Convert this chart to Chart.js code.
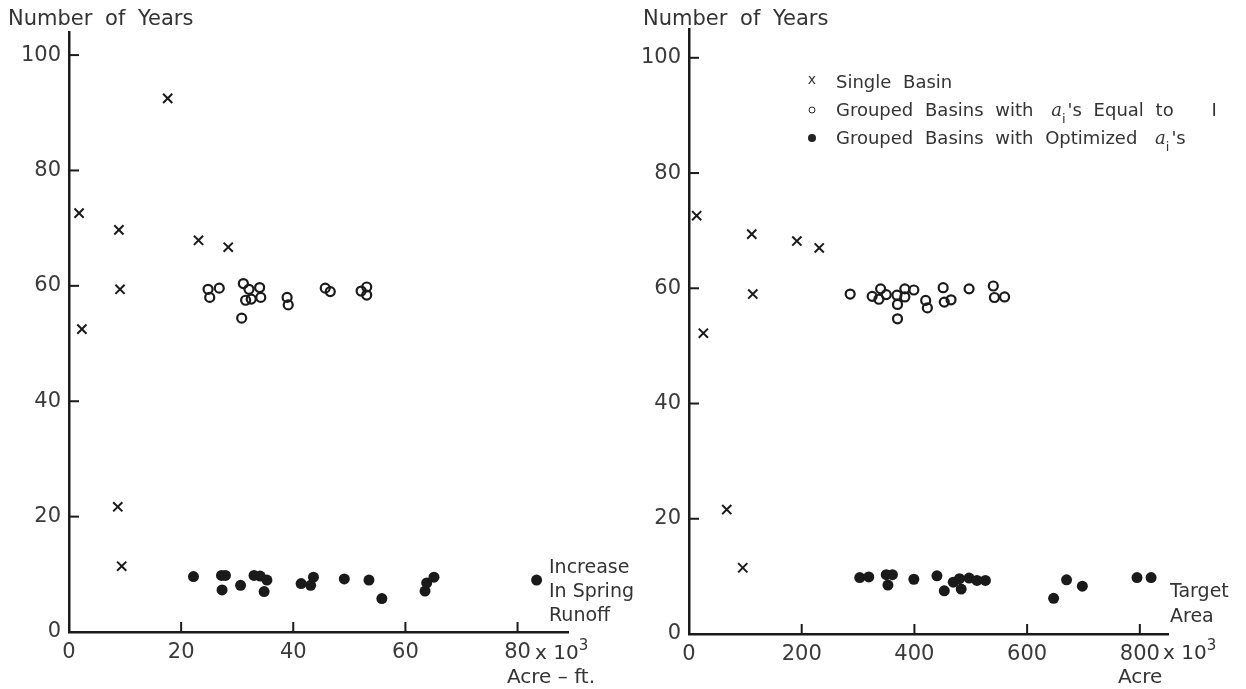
<!DOCTYPE html>
<html>
<head>
<meta charset="utf-8">
<title>Number of Years</title>
<script src="https://cdn.jsdelivr.net/npm/chart.js@4.4.1/dist/chart.umd.min.js"></script>
<style>
    body {
        margin: 0;
        background: #fff;
        width: 1246px;
        height: 689px;
        overflow: hidden;
        position: relative;
        font-family: "DejaVu Sans", sans-serif;
        color: #333;
    }
    canvas { position: absolute; top: 0; }
    #runoffChart { left: 0; }
    #areaChart { left: 623px; }
    .txt { position: absolute; white-space: nowrap; }
    .ylabel { top: 6px; font-size: 21px; line-height: 24px; word-spacing: 6px; }
    .note { font-size: 19px; line-height: 24px; }
    .unit { font-size: 20px; line-height: 24px; }
    .unit sup { font-size: 15px; vertical-align: 9px; line-height: 0; }
    .legend { left: 812px; top: 68px; font-size: 18px; line-height: 28px; word-spacing: 6px; }
    .legend .row { position: relative; padding-left: 24px; }
    .legend .mk { position: absolute; left: 0; top: 14px; transform: translate(-50%, -50%); }
    .mk.cross { font-size: 14px; line-height: 14px; top: 11px; }
    .mk.open { width: 5px; height: 5px; border: 1.6px solid #222; border-radius: 50%; }
    .mk.dot { width: 8px; height: 8px; background: #222; border-radius: 50%; }
    .legend i { font-family: "DejaVu Serif", serif; margin-left: 6px; }
    .legend sub { font-size: 13px; vertical-align: -7px; line-height: 0; margin-right: 2px; }
    .legend .wide { margin-left: 26px; }
</style>
</head>
<body>
<canvas id="runoffChart" width="623" height="689"></canvas>
<canvas id="areaChart" width="623" height="689"></canvas>

<div class="txt ylabel" style="left:8px">Number of Years</div>
<div class="txt ylabel" style="left:643px">Number of Years</div>

<div class="txt note" style="left:549px; top:554px">Increase<br>In Spring<br>Runoff</div>
<div class="txt unit" style="left:535px; top:640px">x 10<sup>3</sup></div>
<div class="txt unit" style="left:507px; top:664px">Acre – ft.</div>

<div class="txt note" style="left:1170px; top:578px; line-height:25px">Target<br>Area</div>
<div class="txt unit" style="left:1163px; top:640px">x 10<sup>3</sup></div>
<div class="txt unit" style="left:1118px; top:664px">Acre</div>

<div class="txt legend">
    <div class="row"><span class="mk cross">x</span>Single Basin</div>
    <div class="row"><span class="mk open"></span>Grouped Basins with <i>a</i><sub>i</sub>'s Equal to <span class="wide">I</span></div>
    <div class="row"><span class="mk dot"></span>Grouped Basins with Optimized <i>a</i><sub>i</sub>'s</div>
</div>

<script>
// years axis, shared by both panels
const yearTicks = [0, 20, 40, 60, 80, 100];

// left panel: increase in spring runoff (x 10^3 acre-ft)
const runoffTicks = [0, 20, 40, 60, 80];
const runoffSingleX = [1.8, 2.3, 8.9, 9.1, 17.6, 23.1, 28.4, 8.7, 9.4];
const runoffSingleY = [72.6, 52.5, 69.7, 59.4, 92.5, 67.9, 66.7, 21.7, 11.4];
const runoffEqualX = [24.8, 25.1, 26.8, 31.1, 32.1, 34.0, 31.5, 32.5, 34.2, 30.8, 38.9, 39.1, 45.7, 46.6, 52.1, 53.1, 53.1];
const runoffEqualY = [59.4, 58.0, 59.6, 60.4, 59.4, 59.7, 57.5, 57.7, 58.0, 54.4, 58.0, 56.7, 59.6, 59.0, 59.1, 59.8, 58.4];
const runoffOptX = [22.2, 27.2, 27.9, 27.3, 30.6, 33.0, 34.1, 35.3, 34.8, 41.4, 43.1, 43.6, 49.1, 53.5, 55.8, 63.5, 63.8, 65.1, 83.4];
const runoffOptY = [9.6, 9.8, 9.8, 7.3, 8.1, 9.8, 9.7, 9.0, 7.0, 8.4, 8.1, 9.5, 9.2, 9.0, 5.8, 7.1, 8.5, 9.5, 9.0];

// right panel: target area (x 10^3 acre)
const areaTicks = [0, 200, 400, 600, 800];
const areaSingleX = [13.6, 111.4, 191.4, 231.1, 113.2, 25.5, 67.0, 95.4];
const areaSingleY = [72.6, 69.4, 68.2, 67.0, 59.0, 52.2, 21.6, 11.5];
const areaEqualX = [286, 325, 337, 340, 350, 369, 370, 370, 383, 383, 399, 420, 423, 451, 453, 465, 497, 540, 542, 560];
const areaEqualY = [59.0, 58.6, 58.1, 59.9, 58.9, 58.8, 57.2, 54.7, 59.9, 58.5, 59.7, 57.9, 56.6, 60.1, 57.6, 58.0, 59.9, 60.4, 58.4, 58.5];
const areaOptX = [303, 319, 350, 361, 353, 399, 440, 453, 469, 480, 483, 497, 511, 526, 647, 670, 698, 795, 820];
const areaOptY = [9.8, 9.9, 10.3, 10.3, 8.5, 9.5, 10.1, 7.5, 9.0, 9.6, 7.8, 9.7, 9.3, 9.3, 6.2, 9.4, 8.3, 9.8, 9.8];

const INK = '#1a1a1a';
const FONT = '"DejaVu Sans", sans-serif';

const zip = (xs, ys) => xs.map((x, i) => ({ x: x, y: ys[i] }));

// short tick marks pointing into the plot, like the hand-drawn axes
const inwardTicks = {
    id: 'inwardTicks',
    afterDraw(chart) {
        const { ctx, chartArea, scales } = chart;
        ctx.save();
        ctx.strokeStyle = INK;
        ctx.lineWidth = 2;
        scales.x.ticks.forEach(t => {
            if (t.value === 0) return;
            const px = scales.x.getPixelForValue(t.value);
            ctx.beginPath();
            ctx.moveTo(px, chartArea.bottom);
            ctx.lineTo(px, chartArea.bottom - 10);
            ctx.stroke();
        });
        scales.y.ticks.forEach(t => {
            if (t.value === 0) return;
            const py = scales.y.getPixelForValue(t.value);
            ctx.beginPath();
            ctx.moveTo(chartArea.left, py);
            ctx.lineTo(chartArea.left + 10, py);
            ctx.stroke();
        });
        ctx.restore();
    }
};

function makeDatasets(singleX, singleY, equalX, equalY, optX, optY) {
    return [
        {
            label: 'Single Basin',
            data: zip(singleX, singleY),
            pointStyle: 'crossRot',
            pointRadius: 6.5,
            borderWidth: 2,
            borderColor: INK
        },
        {
            label: "Grouped Basins with ai's Equal to I",
            data: zip(equalX, equalY),
            pointStyle: 'circle',
            pointRadius: 4.5,
            borderWidth: 2.2,
            borderColor: INK,
            backgroundColor: 'rgba(0,0,0,0)'
        },
        {
            label: "Grouped Basins with Optimized ai's",
            data: zip(optX, optY),
            pointStyle: 'circle',
            pointRadius: 5.5,
            borderWidth: 0,
            borderColor: INK,
            backgroundColor: INK
        }
    ];
}

function makeChart(canvasId, datasets, opts) {
    const tickFont = { family: FONT, size: 21 };
    return new Chart(document.getElementById(canvasId), {
        type: 'scatter',
        data: { datasets: datasets },
        plugins: [inwardTicks],
        options: {
            responsive: false,
            animation: false,
            layout: { padding: { top: opts.top, right: opts.right, left: 0, bottom: 0 } },
            plugins: {
                legend: { display: false },
                tooltip: { enabled: false }
            },
            scales: {
                x: {
                    type: 'linear',
                    min: 0,
                    max: opts.xMax,
                    grid: { display: false },
                    border: { display: true, color: INK, width: 2.5 },
                    afterBuildTicks: s => { s.ticks = opts.xTicks.map(v => ({ value: v })); },
                    afterFit: s => { s.height = opts.xHeight; },
                    ticks: { font: tickFont, color: '#3a3a3a', padding: 0, maxRotation: 0, autoSkip: false }
                },
                y: {
                    type: 'linear',
                    min: 0,
                    max: opts.yMax,
                    grid: { display: false },
                    border: { display: true, color: INK, width: 2.5 },
                    afterBuildTicks: s => { s.ticks = yearTicks.map(v => ({ value: v })); },
                    afterFit: s => { s.width = opts.yWidth; },
                    ticks: { font: tickFont, color: '#3a3a3a', padding: 0 }
                }
            }
        }
    });
}

makeChart('runoffChart',
    makeDatasets(runoffSingleX, runoffSingleY, runoffEqualX, runoffEqualY, runoffOptX, runoffOptY),
    { xTicks: runoffTicks, xMax: 89, yMax: 104, top: 32, right: 55, xHeight: 57, yWidth: 69 });

makeChart('areaChart',
    makeDatasets(areaSingleX, areaSingleY, areaEqualX, areaEqualY, areaOptX, areaOptY),
    { xTicks: areaTicks, xMax: 850, yMax: 105, top: 29, right: 78, xHeight: 55, yWidth: 66 });
</script>
</body>
</html>
